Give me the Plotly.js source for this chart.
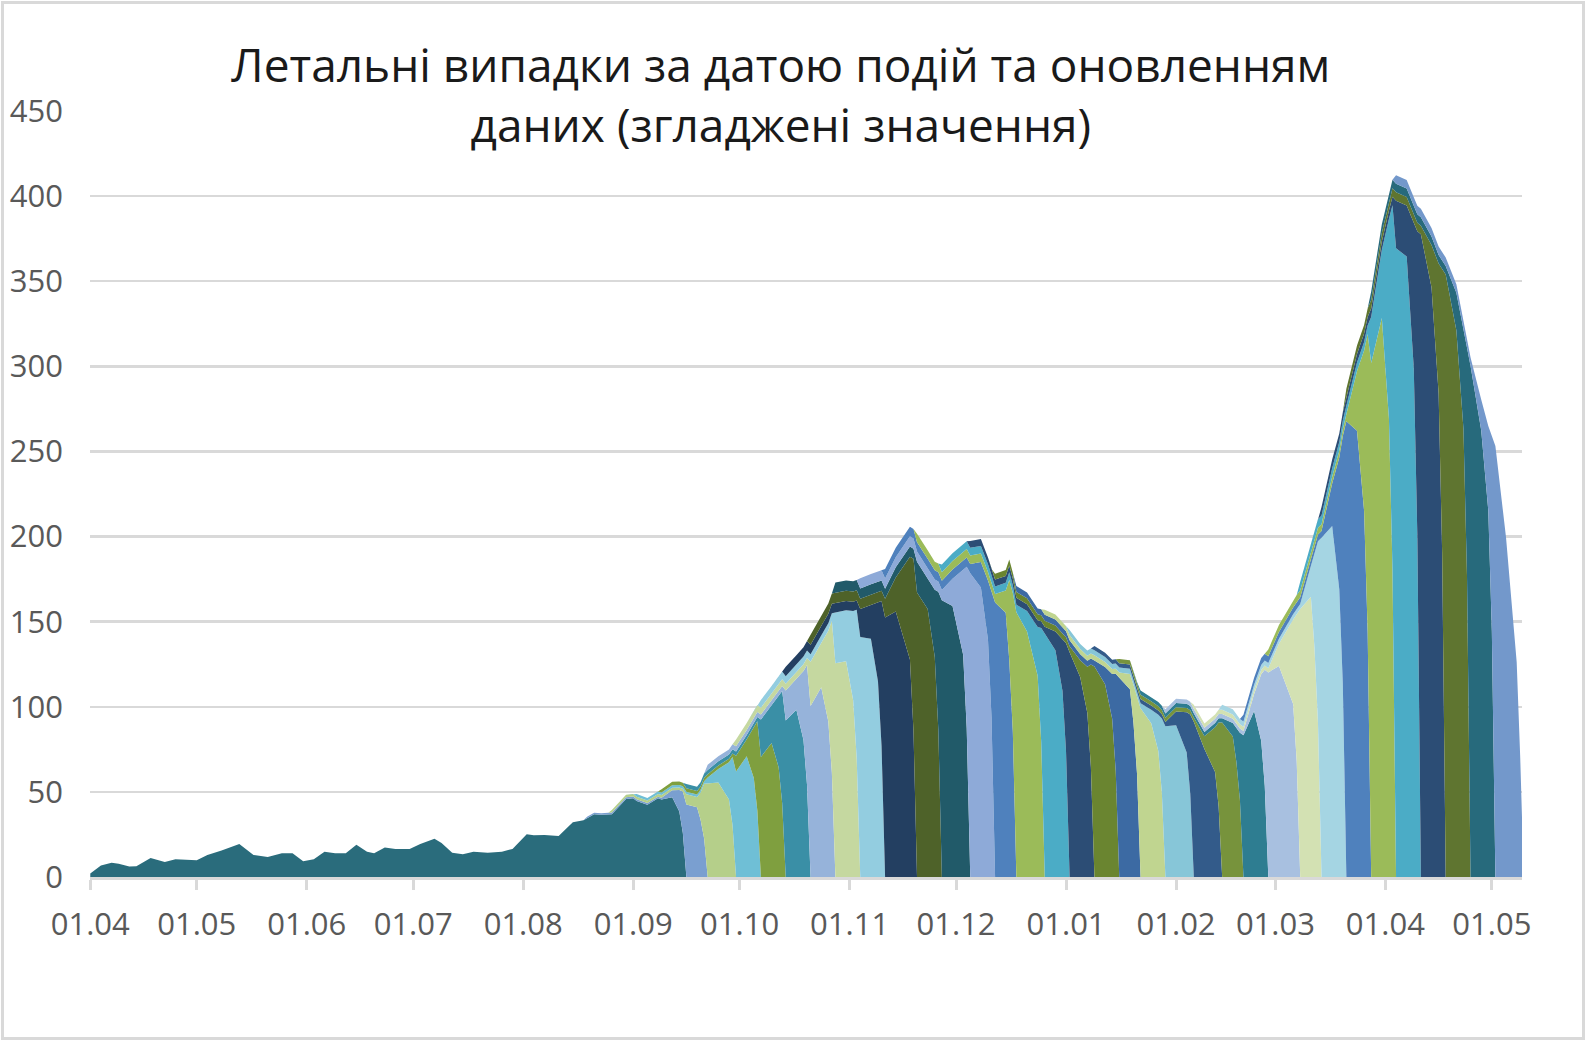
<!DOCTYPE html>
<html>
<head>
<meta charset="utf-8">
<script src="https://cdn.plot.ly/plotly-3.0.1.min.js"></script>
<style>
  body { margin: 0; background: #fff; }
  #grafico { width: 1587px; height: 1043px; }
  #marco { position: absolute; left: 1px; top: 1px; width: 1584px; height: 1039px;
           box-sizing: border-box; border: 3px solid #d9d9d9; pointer-events: none; }
</style>
</head>
<body>
<div id="grafico"></div>
<div id="marco"></div>
<script>
// дні рахуються від 01.04.2020
const chartTitle = 'Летальні випадки за датою подій та оновленням<br>даних (згладжені значення)';

// межі тижнів оновлень (перші чотири - тижні до першого оновлення)
const weekEdges = [140, 147, 154, 161, 168, 174, 182, 189, 196, 203, 210, 217, 224, 233,
                   240, 248, 255, 261, 269, 276, 283, 290, 296, 303, 311, 319, 325, 332,
                   341, 347, 354, 361, 368, 375, 382, 389, 396, 404];

// перше оновлення: весь період до вересня
const firstDays = [0, 3, 6, 8, 11, 13, 17, 21, 24, 27, 30, 33, 37, 42, 46, 50, 54, 57, 60, 63,
                   66, 69, 72, 75, 78, 80, 83, 86, 90, 93, 97, 99, 102, 105, 108, 112, 116, 119, 123, 125,
                   128, 132, 136, 139, 142, 144, 147, 151, 153, 154, 157, 160, 161, 164, 166, 167, 168];
const firstValues = [2, 6.7, 8.4, 7.8, 6.1, 6.3, 11.2, 8.8, 10.4, 10.2, 9.8, 12.9, 15.5, 19.4, 12.9, 11.8, 13.9, 13.9, 9.2, 10.4,
                     14.9, 13.9, 13.9, 19, 14.9, 13.9, 17.3, 16.5, 16.5, 19.4, 22.4, 20, 14.3, 13.3, 14.9, 14.3, 14.9, 16.5, 25.1, 24.5,
                     24.7, 24.1, 32.2, 33.3, 36.8, 36.5, 36.9, 45.8, 46.3, 44.7, 42.4, 46.2, 45.6, 46.9, 38.5, 25.8, 0];

// наступні оновлення:
// [старі тижні, поч. попер. тижня, сер. попер. тижня, кінець попер. тижня (2 точки), свій тиждень (4 точки)]
const upd02 = [1, 1, 4, 12.6, 24.5, 42.6, 41, 33.6, 22.6];
const upd03 = [1.5, 6, 6, 16.1, 32.2, 54.9, 55.5, 45.5, 30.5];
const upd04 = [1.5, 3.5, 8, 21.9, 40, 62, 70.9, 58.1, 39];
const upd05 = [2, 9.3, 10, 29.8, 52.5, 70.5, 78.7, 64.5, 43.3];
const upd06 = [2.5, 22, 22, 42.1, 65.9, 92, 98.2, 80.5, 54];
const upd07 = [3, 17.5, 18, 40.5, 70.6, 100.4, 111.4, 91.3, 61.3];
const upd08 = [4, 26, 26, 53.3, 89.2, 125.5, 126.7, 103.9, 69.7];
const upd09 = [4.5, 30, 30, 52.3, 87.3, 141, 140, 114.8, 77];
const upd10 = [5.5, 16.5, 20, 46.6, 85.2, 152.4, 155.9, 127.8, 85.7];
const upd11 = [6, 11, 20, 60.4, 101.2, 167.2, 157.5, 129.2, 86.6];
const upd12 = [6, 18, 18, 39.5, 81, 162.6, 159.2, 130.5, 87.6];
const upd13 = [6, 6, 16, 50.2, 94.6, 178.4, 170, 139.4, 93.5];
const upd14 = [5.5, 5.5, 15, 34.8, 74, 161.2, 155.3, 127.3, 85.4];
const upd15 = [5, 5, 13, 47.2, 81.4, 155.5, 144.2, 118.2, 79.3];
const upd16 = [4.5, 4.5, 12, 28.6, 67, 143, 133.2, 109.2, 73.3];
const upd17 = [4, 4, 11, 30.4, 64, 132.1, 117.4, 96.3, 64.6];
const upd18 = [3.5, 3.5, 10, 27.2, 60.2, 123.7, 113.3, 92.9, 62.3];
const upd19 = [3.5, 3.5, 10, 26.3, 57.1, 117.1, 110.3, 90.4, 60.7];
const upd20 = [3, 3, 9, 22.5, 45.8, 99.1, 90.3, 74, 49.7];
const upd21 = [3, 3, 8, 21.3, 43.4, 88.6, 89.2, 73.1, 49.1];
const upd22 = [2.5, 2.5, 8, 23.7, 46.4, 91.2, 75.2, 61.7, 41.4];
const upd23 = [2.5, 2.5, 7.5, 26.3, 49.4, 90.7, 82.5, 67.7, 45.4];
const upd24 = [2.5, 2.5, 8, 19.8, 39.4, 83.3, 97.5, 80, 53.6];
const upd25 = [2.5, 2.5, 10, 39.1, 68.1, 120.2, 124, 101.7, 68.2];
const upd26 = [2.5, 2.5, 13, 49.6, 86.5, 157.4, 164.7, 135.1, 90.6];
const upd27 = [3, 3, 18, 54.5, 106.6, 199.3, 206.2, 169.1, 113.4];
const upd28 = [4, 4, 25, 77.4, 145.6, 267.8, 262.2, 215, 144.2];
const upd29 = [4, 4, 35, 94.3, 174.8, 302, 328.4, 269.3, 180.6];
const upd30 = [5, 27, 40, 117.3, 214, 369.3, 364.5, 298.9, 200.5];
const upd31 = [5, 28, 30, 85.5, 178.8, 377.6, 346.3, 284, 190.5];
const upd32 = [5, 5, 25, 76.4, 166.7, 353.9, 321.2, 263.4, 176.7];
const upd33 = [5, 5, 22, 58.5, 134.1, 300.2, 262.5, 215.3, 144.4];
const upd34 = [5, 5, 18, 49.7, 114.7, 253.2, 199.5, 126.3, 70];

const colores = ['#2a6c7c', '#7a9fd0', '#b5cf8a', '#6fbfd6', '#7f9f3f', '#3a8fa6', '#96b3da', '#c5d8a0',
                 '#93cde0', '#233f61', '#4e6229', '#215a69', '#8eaad8', '#4f81bd', '#9bbb59', '#4bacc6',
                 '#2c4d75', '#6a8530', '#3c6aa3', '#c0d590', '#87c6d8', '#335b8a', '#77933c', '#2e7d91',
                 '#a8c0e0', '#d3e1b3', '#a5d5e3', '#4f81bd', '#9bbb59', '#4bacc6', '#2c4d75', '#5f7530',
                 '#276a7c', '#7398cb'];

const updates = [upd02, upd03, upd04, upd05, upd06, upd07, upd08, upd09, upd10, upd11, upd12,
                 upd13, upd14, upd15, upd16, upd17, upd18, upd19, upd20, upd21, upd22, upd23,
                 upd24, upd25, upd26, upd27, upd28, upd29, upd30, upd31, upd32, upd33, upd34];

const inicio = Date.UTC(2020, 3, 1);
function aFecha(d) {
    return new Date(inicio + d * 864e5).toISOString().slice(0, 19).replace('T', ' ');
}
const ultimoDia = weekEdges[weekEdges.length - 1];

function capa(dias, valores, i) {
    return {
        x: dias.map(aFecha),
        y: valores,
        type: 'scatter',
        mode: 'lines',
        stackgroup: 'uno',
        stackgaps: 'interpolate',
        line: { width: 0, color: colores[i] },
        fillcolor: colores[i],
        hoverinfo: 'skip',
        name: 'оновлення ' + (i + 1)
    };
}

const trazas = [capa([...firstDays, ultimoDia], [...firstValues, 0], 0)];

updates.forEach((u, i) => {
    const k = i + 2;
    const eViejo = weekEdges[k - 2];
    const eParte = weekEdges[k + 1];
    const ePrev = weekEdges[k + 2];
    const eFin = weekEdges[k + 3];
    const [thin, s0, s3, w1, w2, m0, m3, c1, c2] = u;
    const dias = [0, eViejo - 1, eViejo, eParte - 1, eParte, eParte + 3, ePrev - 2, ePrev - 1,
                  ePrev, ePrev + 3, eFin - 2, eFin - 1, eFin];
    const valores = [0, 0, thin, thin, s0, s3, w1, w2, m0, m3, c1, c2, 0];
    if (eFin < ultimoDia) {
        dias.push(ultimoDia);
        valores.push(0);
    }
    trazas.push(capa(dias, valores, i + 1));
});

const fuenteEjes = { family: 'Open Sans, sans-serif', size: 31, color: '#595959' };

const layout = {
    width: 1587,
    height: 1043,
    margin: { l: 90, r: 65, t: 111, b: 166 },
    paper_bgcolor: '#ffffff',
    plot_bgcolor: '#ffffff',
    showlegend: false,
    hovermode: false,
    title: {
        text: chartTitle,
        font: { family: 'Open Sans, sans-serif', size: 46, color: '#1a1a1a' },
        x: 0.492,
        xref: 'container',
        xanchor: 'center',
        y: 1 - 82 / 1043,
        yref: 'container',
        yanchor: 'top'
    },
    xaxis: {
        type: 'date',
        range: [aFecha(-0.08), aFecha(403.5)],
        tick0: '2020-04-01',
        dtick: 'M1',
        tickformat: '%d.%m',
        ticks: 'outside',
        ticklen: 10,
        tickwidth: 3,
        tickcolor: '#d9d9d9',
        showline: true,
        linecolor: '#d9d9d9',
        linewidth: 3,
        showgrid: false,
        zeroline: false,
        tickfont: fuenteEjes,
        ticklabelstandoff: 8
    },
    yaxis: {
        range: [0, 450],
        dtick: 50,
        showgrid: true,
        gridcolor: '#d9d9d9',
        gridwidth: 2.5,
        zeroline: false,
        showline: false,
        ticks: '',
        tickfont: fuenteEjes,
        ticklabelstandoff: 26
    }
};

Plotly.newPlot('grafico', trazas, layout, { displayModeBar: false, staticPlot: true });
</script>
</body>
</html>
